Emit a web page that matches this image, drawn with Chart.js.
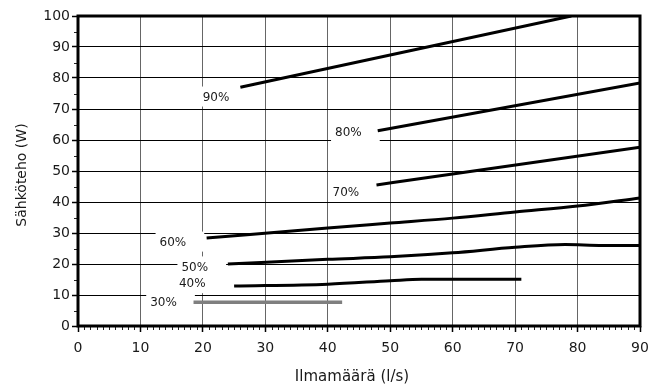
<!DOCTYPE html>
<html>
<head>
<meta charset="utf-8">
<script src="https://cdn.jsdelivr.net/npm/chart.js@4.4.1/dist/chart.umd.min.js"></script>
<style>
  html, body { margin: 0; padding: 0; background: #fff; }
  #wrap { width: 663px; height: 390px; }
</style>
</head>
<body>
<div id="wrap"><canvas id="chart"></canvas></div>
<script>
// airflow (l/s) and electric power (W) per fan speed setting
const x90 = [26, 79];
const y90 = [77, 100];
const x80 = [48, 90];
const y80 = [63, 78.4];
const x70 = [47.8, 90];
const y70 = [45.5, 57.7];
const x60 = [20.6, 40, 50, 60, 70, 80, 90];
const y60 = [28.4, 31.6, 33.2, 34.8, 36.8, 38.7, 41.3];
const x50 = [24, 40, 50, 60, 70, 78, 84, 90];
const y50 = [20, 21.5, 22.3, 23.6, 25.4, 26.3, 26, 26];
const x40 = [25, 40, 50, 55, 71];
const y40 = [12.9, 13.5, 14.6, 15.1, 15.1];
const x30 = [18.5, 42.3];
const y30 = [7.7, 7.7];

// curve labels, anchored in data units
const labelText = ['90%', '80%', '70%', '60%', '50%', '40%', '30%'];
const labelX = [22.1, 43.3, 42.9, 15.2, 18.7, 18.3, 13.7];
const labelY = [73.7, 62.4, 42.9, 26.9, 18.9, 13.5, 7.6];

const xTitle = 'Ilmamäärä (l/s)';
const yTitle = 'Sähköteho (W)';

const FONT = '"DejaVu Sans", sans-serif';

function pts(xs, ys) {
  return xs.map((v, i) => ({ x: v, y: ys[i] }));
}

function series(xs, ys, color, width) {
  return {
    data: pts(xs, ys),
    borderColor: color,
    borderWidth: width,
    pointRadius: 0,
    fill: false,
    tension: 0.4,
    cubicInterpolationMode: 'monotone'
  };
}

const decor = {
  id: 'decor',
  beforeDatasetsDraw(chart) {
    const { ctx, scales: { x, y } } = chart;
    ctx.save();
    ctx.font = '12px ' + FONT;
    ctx.textAlign = 'center';
    ctx.textBaseline = 'middle';
    labelText.forEach((t, i) => {
      const px = x.getPixelForValue(labelX[i]);
      const py = y.getPixelForValue(labelY[i]);
      const w = ctx.measureText(t).width;
      ctx.fillStyle = '#fff';
      ctx.fillRect(px - w / 2 - 4, py - 11, w + 22, 20);
      ctx.fillStyle = '#1a1a1a';
      ctx.fillText(t, px, py);
    });
    ctx.restore();
  },
  afterDatasetsDraw(chart) {
    const { ctx, chartArea: a, scales: { x, y } } = chart;
    ctx.save();
    // minor ticks
    ctx.strokeStyle = '#222';
    ctx.lineWidth = 1;
    ctx.beginPath();
    for (let v = 1; v < 90; v++) {
      if (v % 10 === 0) continue;
      const px = Math.round(x.getPixelForValue(v)) + 0.5;
      ctx.moveTo(px, a.bottom);
      ctx.lineTo(px, a.bottom + 4);
    }
    for (let v = 5; v < 100; v += 10) {
      const py = Math.round(y.getPixelForValue(v)) + 0.5;
      ctx.moveTo(a.left, py);
      ctx.lineTo(a.left - 4, py);
    }
    ctx.stroke();
    // plot frame
    ctx.strokeStyle = '#000';
    ctx.lineWidth = 3;
    ctx.strokeRect(a.left, a.top, a.right - a.left, a.bottom - a.top);

    // axis titles
    ctx.fillStyle = '#1a1a1a';
    ctx.textAlign = 'center';
    ctx.textBaseline = 'middle';
    ctx.font = '15px ' + FONT;
    ctx.fillText(xTitle, (a.left + a.right) / 2 - 7, 377);
    ctx.font = '14px ' + FONT;
    ctx.translate(22, (a.top + a.bottom) / 2 + 4);
    ctx.rotate(-Math.PI / 2);
    ctx.fillText(yTitle, 0, 0);
    ctx.restore();
  }
};

new Chart(document.getElementById('chart'), {
  type: 'line',
  data: {
    datasets: [
      series(x90, y90, '#000', 3),
      series(x80, y80, '#000', 3),
      series(x70, y70, '#000', 3),
      series(x60, y60, '#000', 3),
      series(x50, y50, '#000', 3),
      series(x40, y40, '#000', 3),
      series(x30, y30, '#7f7f7f', 3.5)
    ]
  },
  options: {
    responsive: true,
    maintainAspectRatio: false,
    animation: false,
    layout: { padding: { top: 16, right: 23, left: 0, bottom: 0 } },
    plugins: { legend: { display: false }, tooltip: { enabled: false } },
    scales: {
      x: {
        type: 'linear',
        min: 0,
        max: 90,
        afterFit(s) { s.height = 64; },
        border: { display: false },
        grid: { color: '#666', lineWidth: 1, tickLength: 6, tickColor: '#000', tickWidth: 1.5 },
        ticks: { stepSize: 10, padding: 8, color: '#1a1a1a', font: { family: FONT, size: 14 }, maxRotation: 0 }
      },
      y: {
        min: 0,
        max: 100,
        afterFit(s) { s.width = 78; },
        border: { display: false },
        grid: { color: '#000', lineWidth: 1, tickLength: 6, tickColor: '#000', tickWidth: 1.5 },
        ticks: { stepSize: 10, padding: 2, color: '#1a1a1a', font: { family: FONT, size: 14 } }
      }
    }
  },
  plugins: [decor]
});
</script>
</body>
</html>
